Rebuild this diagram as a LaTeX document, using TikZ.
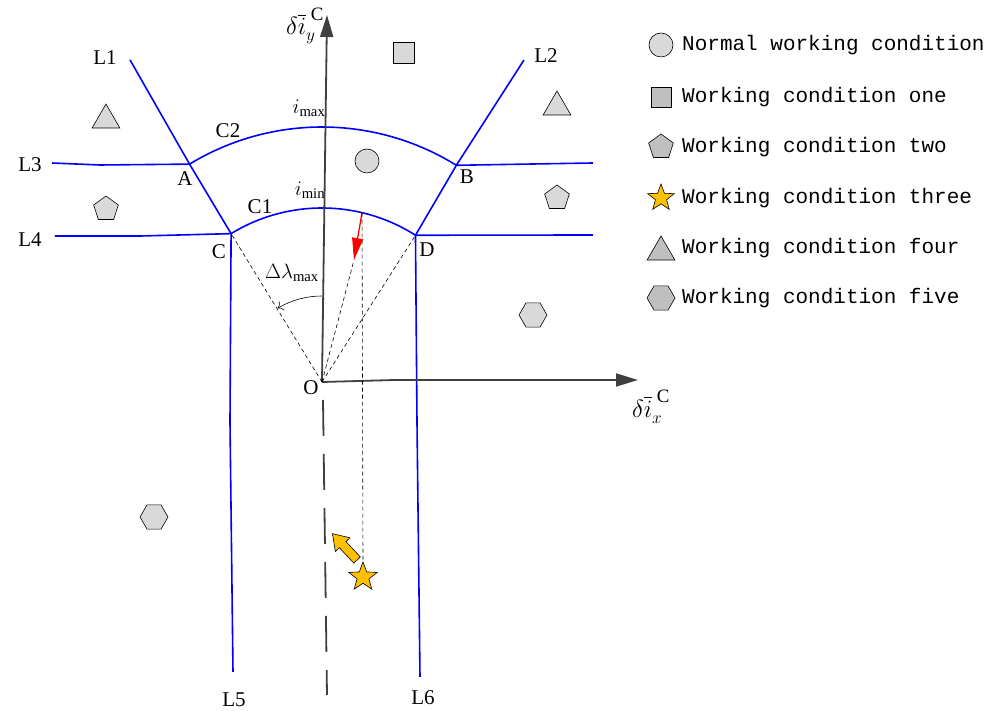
\documentclass[tikz,border=0pt]{standalone}
\usepackage{amsmath}
\usepackage{fontspec}
\setmainfont{Liberation Serif}
\newfontfamily\keyfont{Liberation Mono}
\usetikzlibrary{positioning,shapes.geometric,arrows.meta}
\definecolor{axisgray}{HTML}{404040}
\definecolor{markgray}{HTML}{D9D9D9}
\definecolor{keygray}{HTML}{BFBFBF}
\definecolor{staryellow}{HTML}{FFC000}

\begin{document}
\begin{tikzpicture}[
x=1pt,y=1pt,
bline/.style={blue,line width=1.6pt},
axis/.style={axisgray,line width=1.8pt,-{Triangle[length=22pt,width=13pt]}},
guide/.style={dash pattern=on 4pt off 3pt,line width=0.6pt},
lab/.style={font=\fontsize{21}{21}\selectfont,inner sep=0pt},
marker/.style={draw,line width=0.6pt,inner sep=0pt},
tri/.style={marker,regular polygon,regular polygon sides=3,minimum size=32pt},
penta/.style={marker,regular polygon,regular polygon sides=5,minimum size=26pt},
hexa/.style={marker,regular polygon,regular polygon sides=6,minimum size=28pt},
starmark/.style={marker,star,star points=5,star point ratio=2.4,minimum size=30pt,fill=staryellow},
keytext/.style={font=\keyfont\fontsize{21}{21}\selectfont,anchor=west,inner sep=0pt}
]

\useasboundingbox (-322,-329) rectangle (675,382);

\coordinate (O) at (0,0);
\coordinate (A) at (121.3:255);
\coordinate (B) at (58.2:255);
\coordinate (C) at (121.5:174);
\coordinate (D) at (57.5:174);
\coordinate (L1end) at (120.8:375);
\coordinate (L2end) at (57.9:380);
\coordinate (L3end) at (-270,219);
\coordinate (L3bend) at (-222,217);
\coordinate (L4end) at (-267,146);
\coordinate (L4bend) at (-182,146);
\coordinate (Bright) at (271,219);
\coordinate (Dright) at (271,147);
\coordinate (L5bend) at (-92,-40);
\coordinate (L5end) at (-89,-290);
\coordinate (L6bend) at (95,-40);
\coordinate (L6end) at (98,-295);
\coordinate (xbend) at (73,2);
\coordinate (xtip) at (316,2);
\coordinate (ytip) at (5,367);
\coordinate (ytop) at (1,-18);
\coordinate (ybot) at (5,-313);
\coordinate (redstart) at (76.7:174);
\coordinate (redtip) at (32,122);
\coordinate (angstart) at (90:86);
\coordinate (shifttail) at (35,-178);

\draw[bline] (L1end) -- (A) -- (C) -- (L5bend) -- (L5end);
\draw[bline] (L2end) -- (B) -- (D) -- (L6bend) -- (L6end);
\draw[bline] (L3end) -- (L3bend) -- (A);
\draw[bline] (B) -- (Bright);
\draw[bline] (L4end) -- (L4bend) -- (C);
\draw[bline] (D) -- (Dright);
\draw[bline] (A) arc[start angle=121.3,end angle=58.2,radius=255];
\draw[bline] (C) arc[start angle=121.5,end angle=57.5,radius=174];

\draw[axis] (O) -- (xbend) -- (xtip);
\draw[axis] (O) -- (ytip);
\draw[axisgray,line width=1.8pt,dash pattern=on 36pt off 18pt] (ytop) -- (ybot);

\draw[guide] (O) -- (C);
\draw[guide] (O) -- (D);
\draw[guide] (O) -- (redtip);
\draw[-{To[length=5pt]},line width=0.6pt] (angstart) arc[start angle=90,end angle=121,radius=86];
\draw[red,line width=1.3pt,-{Triangle[length=22pt,width=11pt]}] (redstart) -- (redtip);

\node[starmark] (star) at (41,-195) {};
\draw[guide] (redstart) -- (star.north);
\draw[fill=staryellow,line width=0.6pt,shift={(shifttail)},rotate=133]
(0,-4.5) -- (21,-4.5) -- (21,-10) -- (36,0) -- (21,10) -- (21,4.5) -- (0,4.5) -- cycle;

\node[marker,rectangle,fill=markgray,minimum size=21pt] (sq) at (82,329) {};
\node[tri,fill=markgray] (triL) at (-216,262) {};
\node[tri,fill=markgray] (triR) at (235,275) {};
\node[marker,circle,fill=markgray,minimum size=24pt] (normal) at (45,221) {};
\node[penta,fill=markgray] (pentL) at (-216,173) {};
\node[penta,fill=markgray] (pentR) at (235,184) {};
\node[hexa,fill=markgray] (hexR) at (211,67) {};
\node[hexa,fill=markgray] (hexL) at (-168,-135) {};

\node[lab] (l1) at (-217,324) {L1};
\node[lab] (l2) at (224,326) {L2};
\node[lab] (l3) at (-292,217) {L3};
\node[lab] (l4) at (-292,142) {L4};
\node[lab] (l5) at (-88,-318) {L5};
\node[lab] (l6) at (101,-316) {L6};
\node[lab] (la) at (-137,203) {A};
\node[lab] (lb) at (145,205) {B};
\node[lab] (lc) at (-103,130) {C};
\node[lab] (ld) at (105,132) {D};
\node[lab] (lc2) at (-94,251) {C2};
\node[lab] (lc1) at (-62,175) {C1};
\node[lab] (imax) at (-13,274) {$i_{\max}$};
\node[lab] (imin) at (-12,192) {$i_{\min}$};
\node[lab] (lo) at (-11,-6) {O};
\node[lab] (dlam) at (-30,109) {$\Delta\lambda_{\max}$};
\node[lab,font=\fontsize{27}{27}\selectfont] (ylab) at (-17,356) {$\delta\overline{i}_{y}^{\;\mathrm{C}}$};
\node[lab,font=\fontsize{27}{27}\selectfont] (xlab) at (329,-25) {$\delta\overline{i}_{x}^{\;\mathrm{C}}$};

\node[marker,circle,fill=markgray,minimum size=24pt] (k0) at (339,337) {};
\node[marker,rectangle,fill=keygray,minimum size=20pt] (k1) at (339,285) {};
\node[penta,fill=keygray] (k2) at (339,235) {};
\node[starmark,minimum size=28pt] (k3) at (339,184) {};
\node[tri,fill=keygray] (k4) at (339,130) {};
\node[hexa,fill=keygray] (k5) at (339,84) {};

\node[keytext] (t0) at (360,337) {Normal working condition};
\node[keytext] (t1) at (360,285) {Working condition one};
\node[keytext] (t2) at (360,235) {Working condition two};
\node[keytext] (t3) at (360,184) {Working condition three};
\node[keytext] (t4) at (360,134) {Working condition four};
\node[keytext] (t5) at (360,84) {Working condition five};

\end{tikzpicture}
\end{document}
